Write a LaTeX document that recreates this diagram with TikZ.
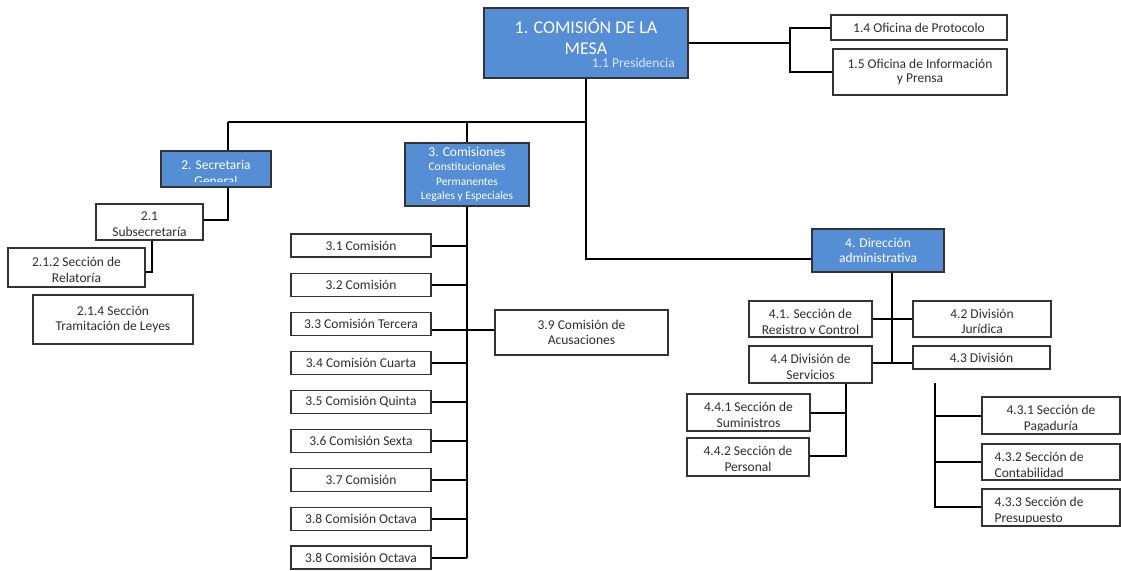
\documentclass[tikz,border=0pt]{standalone}
\usepackage{fontspec}
\setmainfont{Carlito}
\definecolor{blueA}{RGB}{85,142,213}
\definecolor{txtG}{RGB}{45,45,45}
\definecolor{lightT}{RGB}{220,230,245}
\newcommand\cliptxt[5]{%
\begin{scope}\clip ([yshift=#2]#1.south west) rectangle (#1.north east);
\node[txt,#3] (#1t) at #4 {#5};\end{scope}}
\begin{document}
\begin{tikzpicture}[x=1pt,y=-1pt,
 box/.style={draw=black!80, line width=1.1pt, fill=white, text=txtG, font=\fontsize{13.5}{14.5}\selectfont, align=center, inner sep=0pt},
 bbox/.style={box, fill=blueA, text=white},
 txt/.style={text=txtG, font=\fontsize{13.5}{15.5}\selectfont, inner sep=0pt},
 conn/.style={line width=2pt, black}]
\useasboundingbox (0,0) rectangle (1121,570);

% boxes
\node[bbox, minimum width=204pt, minimum height=70pt] (m1) at (586,43) {};
\node[font=\fontsize{18}{21}\selectfont, text=white, align=center, inner sep=0pt] (m1t) at (586,37) {1. COMISIÓN DE LA\\MESA};
\node[txt, text=lightT, anchor=east] (m1p) at (675,63) {1.1 Presidencia};
\node[box, minimum width=176pt, minimum height=25pt] (p14) at (919,27.5) {1.4 Oficina de Protocolo};
\node[box, minimum width=174pt, minimum height=46pt] (p15) at (920,72) {1.5 Oficina de Información\\y Prensa};

\node[bbox, minimum width=110pt, minimum height=36pt] (s2) at (216,169) {};
\cliptxt{s2}{6pt}{anchor=north,align=center,text=white,font=\fontsize{13.5}{16}\selectfont}{([yshift=-10pt]s2.north)}{2. Secretaria\\General}
\node[box, minimum width=107pt, minimum height=36pt] (s21) at (149.5,222) {};
\node[txt, align=center] (s21t) at (149.5,224) {2.1\\Subsecretaría};
\node[box, minimum width=137pt, minimum height=39pt] (s212) at (76.5,267.5) {};
\node[txt, align=center] (s212t) at (76.5,270) {2.1.2 Sección de\\Relatoría};
\node[box, minimum width=160pt, minimum height=49pt] (s214) at (113,319.5) {2.1.4 Sección\\Tramitación de Leyes};

\node[bbox, minimum width=124pt, minimum height=63pt] (c3) at (467,174.5) {{\fontsize{13.5}{15}\selectfont 3. Comisiones}\\\fontsize{11.5}{13}\selectfont Constitucionales\\\fontsize{11.5}{13}\selectfont Permanentes\\\fontsize{11.5}{13}\selectfont Legales y Especiales};
\tikzset{cbox/.style={box, minimum width=140pt, minimum height=23pt}}
\node[cbox] (c31) at (361,245.5) {3.1 Comisión};
\node[cbox] (c32) at (361,285) {3.2 Comisión};
\node[cbox] (c33) at (361,324) {3.3 Comisión Tercera};
\node[cbox] (c34) at (361,363) {3.4 Comisión Cuarta};
\node[cbox] (c35) at (361,402) {3.5 Comisión Quinta};
\node[cbox] (c36) at (361,441) {3.6 Comisión Sexta};
\node[cbox] (c37) at (361,480) {3.7 Comisión};
\node[cbox] (c38) at (361,519) {3.8 Comisión Octava};
\node[cbox] (c38b) at (361,557.5) {3.8 Comisión Octava};
\node[box, minimum width=173pt, minimum height=45pt] (c39) at (581.5,332.5) {3.9 Comisión de\\Acusaciones};

\node[bbox, minimum width=132pt, minimum height=43pt] (d4) at (878,250.5) {4. Dirección\\administrativa};
\node[box, minimum width=123pt, minimum height=36pt] (d41) at (810.5,319) {};
\cliptxt{d41}{4.5pt}{anchor=north,align=center}{([yshift=-8.5pt]d41.north)}{4.1. Sección de\\Registro y Control}
\node[box, minimum width=138pt, minimum height=36pt] (d42) at (982,319) {};
\cliptxt{d42}{4.5pt}{anchor=north,align=center}{([yshift=-8.5pt]d42.north)}{4.2 División\\Jurídica}
\node[box, minimum width=123pt, minimum height=37pt] (d44) at (810.5,364.5) {};
\cliptxt{d44}{4.5pt}{anchor=north,align=center}{([yshift=-8.5pt]d44.north)}{4.4 División de\\Servicios}
\node[box, minimum width=137pt, minimum height=23pt] (d43) at (981.5,357.5) {4.3 División};
\node[box, minimum width=123pt, minimum height=37pt] (d441) at (748.5,412.5) {};
\cliptxt{d441}{4.5pt}{anchor=north,align=center}{([yshift=-8.5pt]d441.north)}{4.4.1 Sección de\\Suministros}
\node[box, minimum width=122pt, minimum height=38pt] (d442) at (748,457) {};
\cliptxt{d442}{4.5pt}{anchor=north,align=center}{([yshift=-8.5pt]d442.north)}{4.4.2 Sección de\\Personal}
\node[box, minimum width=138pt, minimum height=37pt] (d431) at (1051,415.5) {};
\cliptxt{d431}{4.5pt}{anchor=north,align=center}{([yshift=-8.5pt]d431.north)}{4.3.1 Sección de\\Pagaduría}
\node[box, minimum width=138pt, minimum height=36pt] (d432) at (1051,462) {};
\cliptxt{d432}{4.5pt}{anchor=north west,align=left}{([xshift=13pt,yshift=-8.5pt]d432.north west)}{4.3.2 Sección de\\Contabilidad}
\node[box, minimum width=138pt, minimum height=37pt] (d433) at (1051,507.5) {};
\cliptxt{d433}{4.5pt}{anchor=north west,align=left}{([xshift=13pt,yshift=-8.5pt]d433.north west)}{4.3.3 Sección de\\Presupuesto}

% connectors
\coordinate (j1) at (790,43);
\draw[conn] (m1.east) -- (j1);
\draw[conn] (p14.west) -| (j1);
\draw[conn] (p15.west) -| (j1);
\coordinate (busL) at (228,122);
\coordinate (busR) at (586,122);
\draw[conn] (m1.south) -- (busR);
\draw[conn] (busL) -- (busR);
\draw[conn] (busL) -- (busL |- s2.north);
\draw[conn] (c3.north |- busL) -- (c3.north);
\coordinate (t4) at (586,259);
\draw[conn] (busR) -- (t4) -- (t4 -| d4.west);
\coordinate (k2) at (228,220);
\draw[conn] (k2 |- s2.south) -- (k2) -- (k2 -| s21.east);
\coordinate (k21) at (152,272);
\draw[conn] (k21 |- s21.south) -- (k21) -- (k21 -| s212.east);
\draw[conn] (c3.south) -- (c3.south |- c38b.east);
\foreach \n in {c31,c32,c34,c35,c36,c37,c38,c38b}{\draw[conn] (\n.east) -- (\n.east -| c3.south);}
\coordinate (k3) at (467,330);
\draw[conn] (c33.east |- k3) -- (k3 -| c39.west);
\coordinate (v4) at (892,363);
\draw[conn] (v4 |- d4.south) -- (v4);
\draw[conn] (d41.east) -- (d42.west);
\draw[conn] (d44.east |- v4) -- (v4 -| d43.west);
\coordinate (v44) at (846,456);
\draw[conn] (v44 |- d44.south) -- (v44) -- (v44 -| d442.east);
\draw[conn] (d441.east) -- (d441.east -| v44);
\coordinate (v43t) at (935,383);
\coordinate (v43b) at (935,507);
\draw[conn] (v43t) -- (v43b) -- (v43b -| d433.west);
\draw[conn] (d431.west) -- (d431.west -| v43t);
\draw[conn] (d432.west) -- (d432.west -| v43t);
\end{tikzpicture}
\end{document}
